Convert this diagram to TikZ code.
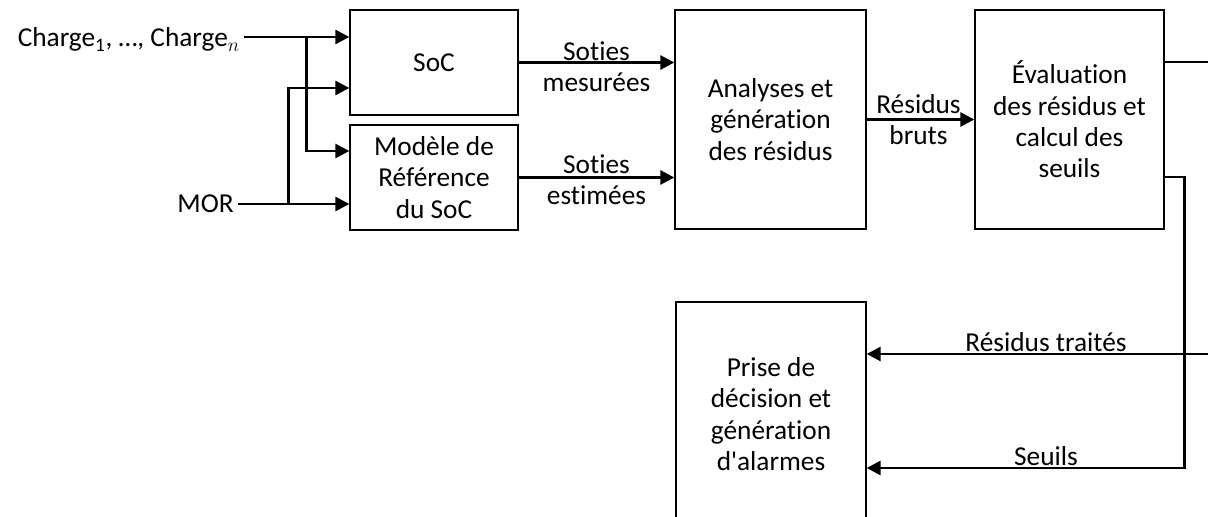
\documentclass[tikz,border=0pt]{standalone}
\usepackage{fontspec}
\setmainfont{Carlito}[Ligatures=NoCommon]
\usetikzlibrary{arrows.meta,calc}
\newcommand\lblfont{\fontsize{20.5}{23.5}\selectfont}
\tikzset{
  blk/.style={draw, line width=1pt, inner sep=0pt, align=center, font=\lblfont},
  conn/.style={line width=2pt, -{Triangle[length=10.5pt,width=10.5pt]}},
  wire/.style={line width=2pt},
  lbl/.style={font=\lblfont, inner sep=0pt, align=center},
}
\begin{document}
\begin{tikzpicture}[x=0.75pt,y=-0.75pt]
\path[use as bounding box, fill=white] (0,0) rectangle (1208,517);
\clip (0,0) rectangle (1208,517);
% blocks
\node[blk, minimum width=126pt, minimum height=78.75pt] (soc) at (434,62.5) {SoC};
\node[blk, minimum width=126pt, minimum height=78.75pt] (mod) at (434,177.5) {Modèle de\\Référence\\du SoC};
\node[blk, minimum width=143.25pt, minimum height=164.25pt] (ana) at (770.5,119.5) {Analyses et\\génération\\des résidus};
\node[blk, minimum width=141.75pt, minimum height=164.25pt] (eva) at (1069.5,119.5) {Évaluation\\des résidus et\\calcul des\\seuils};
\node[blk, minimum width=142.5pt, minimum height=168pt] (dec) at (771,414) {Prise de\\décision et\\génération\\d\textquotesingle alarmes};
% inputs
\node[lbl, anchor=base east] (chg) at (240,47) {Charge\textsubscript{1}, …, Charge$_{n}$};
\node[lbl, anchor=base east] (mor) at (234,213) {MOR};
\coordinate (s1) at ($(soc.west)+(0,-25.5)$);
\coordinate (s2) at ($(soc.west)+(0,25.5)$);
\coordinate (m1) at ($(mod.west)+(0,-26.5)$);
\coordinate (m2) at ($(mod.west)+(0,26.5)$);
\coordinate (j1) at ($(s1)+(-43,0)$);
\coordinate (j2) at ($(m2)+(-61,0)$);
\draw[conn] ([xshift=3pt]chg.east |- s1) -- (s1);
\draw[conn] (j1) |- (m1);
\draw[conn] ([xshift=3pt]mor.east |- m2) -- (m2);
\draw[conn] (j2) |- (s2);
% outputs of SoC / model
\draw[conn] (soc.east) -- (soc.east -| ana.west)
  node[lbl, midway, yshift=-3pt] (lm) {Soties\\mesurées};
\draw[conn] (mod.east) -- (mod.east -| ana.west)
  node[lbl, midway, yshift=-1.5pt] (le) {Soties\\estimées};
\draw[conn] (ana.east) -- (eva.west)
  node[lbl, midway, xshift=-1.5pt] (lb) {Résidus\\bruts};
% right side
\coordinate (e1) at ($(eva.east)+(0,-57.5)$);
\coordinate (e2) at ($(eva.east)+(0,57.5)$);
\coordinate (out1) at (1212,62);
\coordinate (in2) at (1212,354);
\coordinate (d2) at ($(dec.east)+(0,54)$);
\draw[wire] (e1) -- (out1);
\draw[conn] (in2) -- (in2 -| dec.east);
\draw[conn] (e2) -- ++(20,0) |- (d2);
\node[lbl, anchor=base] (lrt) at (1046,351) {Résidus traités};
\node[lbl, anchor=base] (ls) at (1046,465) {Seuils};
\end{tikzpicture}
\end{document}
